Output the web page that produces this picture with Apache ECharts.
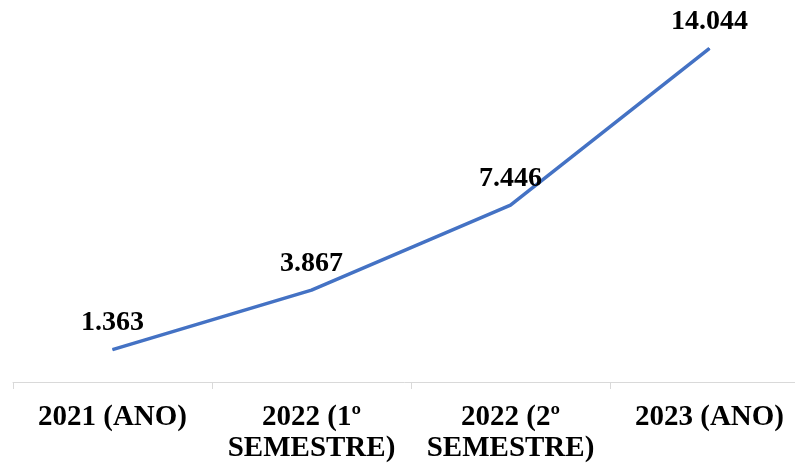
<!DOCTYPE html>
<html><head><meta charset="utf-8">
<script src="https://cdn.jsdelivr.net/npm/echarts@6/dist/echarts.min.js"></script>
<style>html,body{margin:0;padding:0;background:#fff}#c{width:795px;height:463px}</style>
</head><body><div id="c"></div>
<script>
const categories = ["2021 (ANO)", "2022 (1º\nSEMESTRE)", "2022 (2º\nSEMESTRE)", "2023 (ANO)"];
const values = [1363, 3867, 7446, 14044];
const valueLabels = ["1.363", "3.867", "7.446", "14.044"];

const chart = echarts.init(document.getElementById('c'), null, {renderer: 'canvas'});
chart.setOption({
  animation: false,
  grid: {left: 13, width: 796, top: 2, bottom: 81, containLabel: false, outerBoundsMode: 'none'},
  xAxis: {
    type: 'category',
    data: categories,
    boundaryGap: true,
    axisLine: {lineStyle: {color: '#d9d9d9', width: 1}},
    axisTick: {show: true, length: 7, lineStyle: {color: '#d9d9d9'}},
    axisLabel: {
      interval: 0, margin: 20,
      fontFamily: '"Liberation Serif", "Times New Roman", serif',
      fontWeight: 'bold', fontSize: 29, lineHeight: 31, color: '#000'
    }
  },
  yAxis: {type: 'value', min: 0, max: 16000, show: false, splitLine: {show: false}},
  series: [{
    type: 'line',
    data: values,
    symbol: 'circle', symbolSize: 1,
    itemStyle: {color: '#4472C4'},
    lineStyle: {color: '#4472C4', width: 3.5},
    label: {
      show: true, position: 'top', distance: 12,
      formatter: p => valueLabels[p.dataIndex],
      fontFamily: '"Liberation Serif", "Times New Roman", serif',
      fontWeight: 'bold', fontSize: 28, color: '#000'
    }
  }]
});
</script></body></html>
